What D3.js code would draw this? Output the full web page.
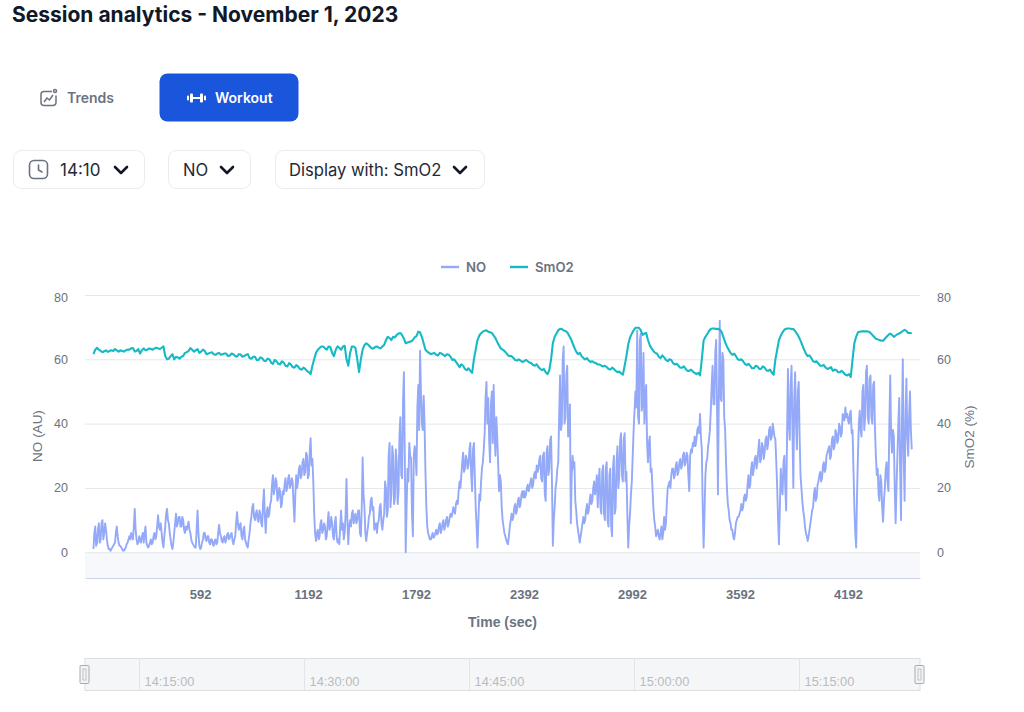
<!DOCTYPE html>
<html><head><meta charset="utf-8">
<script src="https://cdn.jsdelivr.net/npm/d3@7"></script>
<style>html,body{margin:0;padding:0;background:#fff}svg{display:block}</style>
</head><body><div id="c"></div>
<script>
const titleText = "Session analytics - November 1, 2023";
const sampleSeconds = 9.97;
const noValues = [
1,8,3,9,4,10,6,7,2,1,1,2,3,8,3,2,1,0.5,1.5,3,
5,6,4,13.5,4,3,4,5,3,8,2,2,4,3,6,5,11.5,7,6,1.5,
8,13.5,9,4,1,6,12,9,11,8,10,6,7,9.5,6,3,2,1.5,13,2,
1.5,4,6,3.5,5,2.5,4,2,4,3,8.5,5,3,5,4,6,4.5,6,2.5,5,
12.5,7,9,4,8,3,1.5,6,11,15,10,13,9.5,12,8,19.5,6,14,12,16,
24,20,22,17,19,15,18,23,20,24,21,22,9.5,24,22,27,24,29,25,30,
24,35.5,29,12,3.5,7,5,10,7,8,5,12.5,8,9,4,11,3,2.5,13,9,
6,22.8,2.5,10,12,9,12,10,13,5,29.5,14,3.5,8,12,17,14,8,6,10,
15,7,12,20,13,34,18,30,17,28,19,42,23,56,0,26,34,29,5,33,
24,52,62.7,40,48.7,25,8,5,4,6,5,7,6,9,7,10,8,11,9,12,
12,13,15,15,22,24,31,26,29,27,34,19,34,14,1.5,18,22,28,37,53,
48,28,50,52,30,36,19,22,10,6,4,2.5,8,12,11,15,13,17,15,19,
19,18,21,20,23,21,25,27,26,30,22,31,16,33,26,36,2,14,22,28,
55,40,64,42,58,38,9,30,28,13,7,3,7,11,10,15,13,18,16,22,
20,14,26,12,27,10,28,8,26,5,30,14,33,24,37,22,37,25,1.5,12,
22,38,50,69,40,68,46,40,52,28,36,26,14,8,6,5,6,4,11,9,
20,22,24,26,24,28,25,29,27,31,28,30,19,32,34,36,35,39,43,32,
1.5,24,29,35,44,58,46,66,18,72,47,60,38,20,13,9,7,4,9,11,
12,15,14,18,17,24,21,28,26,30,28,35,29,33,31,36,34,39,36,38,
35,20,2.5,26,18,30,13,57,35,58,20,56,32,53,24,16,11,6,3.5,7,
11,14,20,17,22,25,23,28,26,31,33,30,36,33,37,35,39,37,42,45,
43,40,44,38,14,1.5,30,44,36,52,42,58,40,55,40,53,30,26,16,22,
9.5,20,28,19,55,31,36,9,30,48,10,60,16,54,30,50,32];
const noBetween = [
6,2,7,3,9,4,9,4,1,0.5,1.5,2.5,6,5,2,1.5,0.5,1,2.5,4,
4,5,8,7,2.5,5,3,6,6,3,1.5,3,2.5,5,4,8,8,9,3,5,
12,10,6,2,3,9,8,11,8,11,7,8,8,7,4,2.5,1.5,7,6,1,
3,6,4,5,3,4,2.5,3.5,2.5,6,6,3.5,4.5,3,5.5,4,5.5,3.5,4,9,
9,8.5,5,7,4,2,4,9,14,11,12,10,13,9,15,11,12,11,15,21,
18,23,16,20,14,19,21,19,23,20,23,15,18,20,26,23,28,24,31,23,
31,27,22,6,6,4,9,6,9,4,9,7,11,5,9,5,4,8,7,4,
12,10,8,8,13,11,9,13,6,14,18,6,6,11,16,13,7,9,9,14,
9,10,22,11,30,14,33,15,32,15,36,24,47,30,14,22,30,12,30,30,
45,38,50,38,40,14,6,4,5,4.5,6,5.5,8,6,9,7,10,8,11,11,
14,12,16,19,20,28,25,30,26,32,24,32,24,8,10,16,26,32,48,40,
35,46,34,38,42,28,24,14,8,5,3,5,10,10,14,12,16,14,18,17,
17,20,19,22,20,24,23,25,29,23,30,18,31,24,35,22,10,20,26,42,
38,60,40,55,36,46,24,26,16,9,5,5,9,9,13,12,16,15,20,18,
24,22,14,25,12,26,10,24,8,26,12,28,20,35,24,35,22,12,8,18,
30,44,45,42,66,44,62,48,34,34,25,20,10,5,7,4,8,6,7,15,
21,20,26,23,27,24,28,26,30,27,31,24,30,31,33,33,38,37,36,14,
12,28,33,38,52,46,62,44,50,48,62,42,28,15,10,7,5,6,10,11,
13,13,17,16,21,20,26,24,29,26,32,28,34,29,35,32,38,35,40,36,
28,10,14,20,28,20,36,40,52,38,48,40,50,36,20,13,8,5,5,9,
13,18,16,21,24,22,27,25,30,32,29,35,32,38,34,40,36,43,41,42,
41,43,37,26,6,18,40,38,50,38,56,42,54,42,52,38,24,18,24,14,
16,26,22,40,36,38,20,20,40,26,40,30,42,36,42,38];
const smo2Values = [
61.6,63.6,62.6,62.5,62.3,62.8,63.2,62.4,62.6,62.8,63,63.5,62.6,61.8,63.4,63,63.2,63.4,63.4,63.6,
61,60.2,61.6,60.8,60.2,61,62.2,63.5,62.4,63.2,62.4,62.6,61.8,62.2,61.4,62,61.6,61.8,61.2,61.6,
60.8,61.5,61,61.6,60.2,60.8,59.8,60.4,59.4,60,58.6,59.4,58.4,59,57.8,58.4,57.4,57.8,56.8,57,
56,58,62,63.5,64,63,63.8,61,64,63,64.2,58,64,63.5,56,63,65,64,63.4,64,
63.4,64.5,67,66,66.8,68,67.5,65,65.4,66,67.2,68.4,65,62.4,61.6,62,61.2,61.8,61,61.4,
59.8,59.2,57.6,58,56.6,56.4,60,66,68.1,68.9,68.6,68.2,66.6,64.3,63,62,61,60.4,59.6,59.6,
59.4,59.4,58.8,58,57.6,56.6,56,56.6,65,68,69.5,69,68.4,66.4,63.6,61.6,61,60,59.6,59.4,
58.8,58.4,57.8,57.6,56.8,57,56,55.6,58,64.6,68,69.8,69.8,67.6,68.2,64.4,62.6,61.8,60.4,60.6,
59.4,59.8,58.4,58,57.4,57,56.4,56.2,55.4,55,65.8,67.8,69.4,69.6,69.5,68.6,65.3,63,61.4,61,
59.8,59.4,58.2,58,57.2,57.8,57,57.4,56.4,55.8,60,66,68.4,69.5,69.6,69.4,68,65.8,63,61,
60.4,59.2,58.6,58,57.4,57.2,56.4,56.6,56,55.8,55,54.5,65,68.4,68.7,68.7,68.6,67.6,66.4,66,
65.8,67,68,67,67.8,68.4,69.2,68.2,68.1];
const smo2Between = [
63,63,62.2,62.8,62.6,62.6,62.8,62.8,62.4,63,63.4,62.4,63.2,62.8,62.8,63.4,63,63.6,63.2,64,
60,61,60,60.6,60.8,62,62.6,63,62.8,62,63,61.6,62,61.6,61.8,61.4,61.8,61,61.8,61,
61.6,60.8,61.4,60.4,60.8,59.8,60.6,59.6,60.2,59,59.8,58.6,59.4,58,58.8,57.6,58.2,57,57.4,56.4,
55.4,60,63,64,63.4,64,62,63,63.6,64,60,62,64,60,60,64.4,64.6,63.4,63.8,63.6,
64,66,66.6,67,67.6,68.2,66.4,65.2,65.6,66.8,68.6,67,63,62,61.8,61.4,62,61.4,61.6,60.8,
60,58.4,58.4,57,57.2,55.8,63,67.4,68.6,69,68.4,67.4,65.4,63.4,62.6,61.2,61,59.8,60,59.2,
59.8,59,58.2,58.4,57,57,55.4,60,67,69,69.4,68.8,67.4,65,62.4,62,60.4,60.4,59.2,59,
58.4,58,58,57,57.4,56.4,56.2,55.2,61,66.8,69,69.8,69,68,66,63.4,62,60.8,61.2,59.8,
60,58.8,58.6,57.4,57.8,56.4,56.8,55.8,55.8,60,67,68.8,69.6,69.4,69.2,67,64,62,61.8,60,
60,58.6,58.6,57.2,58,57,57.8,56.6,56.8,55.2,63,67.4,69.2,69.6,69.4,68.8,67,64.4,61.8,61.2,
59.4,59.4,58,58.2,57,57.6,56.8,56,56.4,55.2,55.4,60,67,68.6,68.7,68.7,68.2,67,66.2,65.8,
66.4,67.6,67.6,67.4,68,68.8,68.8,68.2];
const xTicks = [592,1192,1792,2392,2992,3592,4192];
const yTicks = [0,20,40,60,80];
const sliderTicks = ["14:15:00","14:30:00","14:45:00","15:00:00","15:15:00"];
const legendNames = ["NO","SmO2"];
const dropdownTexts = ["14:10","NO","Display with: SmO2"];

const NO_C="#94a9f8", SM_C="#17bac4", TXT="#6b7280";
const svg=d3.select("#c").append("svg").attr("width",1024).attr("height",712).attr("viewBox","0 0 1024 712");
const inter="Inter, 'Noto Sans', sans-serif", arial="'Liberation Sans', Arial, sans-serif";

svg.append("text").attr("x",12).attr("y",22).attr("font-family",inter).attr("font-size",21).attr("font-weight",700).attr("fill","#111827").text(titleText);

// Tabs
const gT=svg.append("g");
gT.append("text").attr("x",67).attr("y",103).attr("font-family",inter).attr("font-size",14).attr("font-weight",600).attr("fill","#6b7280").text("Trends");
const ic=gT.append("g").attr("fill","none").attr("stroke","#6b7280").attr("stroke-width",1.5);
ic.append("path").attr("d","M52 91.5H44a3 3 0 0 0-3 3v8a3 3 0 0 0 3 3h9a3 3 0 0 0 3-3v-7");
ic.append("path").attr("d","M44 102l3-4 2.5 2 3.5-5");
ic.append("circle").attr("cx",55).attr("cy",91).attr("r",1.5);
gT.append("rect").attr("x",159.5).attr("y",73.5).attr("width",139).attr("height",48).attr("rx",8).attr("fill","#1a56db");
gT.append("text").attr("x",215).attr("y",103).attr("font-family",inter).attr("font-size",14).attr("font-weight",600).attr("fill","#fff").text("Workout");
const db=gT.append("g").attr("fill","#fff");
db.append("rect").attr("x",187).attr("y",95.5).attr("width",2).attr("height",5).attr("rx",1);
db.append("rect").attr("x",190).attr("y",93.5).attr("width",3).attr("height",9).attr("rx",1);
db.append("rect").attr("x",193).attr("y",97).attr("width",7).attr("height",2);
db.append("rect").attr("x",200).attr("y",93.5).attr("width",3).attr("height",9).attr("rx",1);
db.append("rect").attr("x",204).attr("y",95.5).attr("width",2).attr("height",5).attr("rx",1);

// Dropdowns
const boxes=[[13,131,60,121,17],[168,82,183,227,16.6],[275,209,289,460,16.6]];
boxes.forEach((b,i)=>{
  svg.append("rect").attr("x",b[0]+.5).attr("y",150.5).attr("width",b[1]).attr("height",38).attr("rx",8).attr("fill","#fff").attr("stroke","#e9ebef");
  svg.append("text").attr("x",b[2]).attr("y",175.5).attr("font-family",inter).attr("font-size",b[4]).attr("fill","#1f2937").text(dropdownTexts[i]);
  svg.append("path").attr("d",`M${b[3]-6} 167l6 6 6-6`).attr("fill","none").attr("stroke","#111827").attr("stroke-width",2.6).attr("stroke-linecap","round").attr("stroke-linejoin","round");
});
const ck=svg.append("g").attr("fill","none").attr("stroke","#6b7280").attr("stroke-width",1.6);
ck.append("rect").attr("x",29.5).attr("y",160.5).attr("width",18).attr("height",18).attr("rx",4.5);
ck.append("path").attr("d","M38.5 165v5l3.5 2").attr("stroke-linecap","round");

// Scales
const x=d3.scaleLinear().domain([-47,4592]).range([85,920]);
const y=d3.scaleLinear().domain([-8,80]).range([578,295]);

svg.append("rect").attr("x",85).attr("y",y(0)).attr("width",835).attr("height",y(-8)-y(0)).attr("fill","#f7f8fb");

const yL=svg.append("g").attr("transform","translate(85,0)").call(d3.axisLeft(y).tickValues(yTicks).tickSize(-835).tickPadding(17));
yL.select(".domain").remove();
yL.selectAll(".tick line").attr("stroke","#e5e7eb");
yL.selectAll("text").attr("font-family",arial).attr("font-size",12.5).attr("fill",TXT).attr("y",d=>d===80?2:0);
const yR=svg.append("g").attr("transform","translate(920,0)").call(d3.axisRight(y).tickValues(yTicks).tickSize(0).tickPadding(17));
yR.select(".domain").remove();
yR.selectAll("text").attr("font-family",arial).attr("font-size",12.5).attr("fill",TXT).attr("y",d=>d===80?2:0);

const xA=svg.append("g").attr("transform","translate(0,578)").call(d3.axisBottom(x).tickValues(xTicks).tickSize(0).tickPadding(12).tickFormat(d3.format("d")));
xA.select(".domain").attr("stroke","#ccd3e4");
xA.selectAll("text").attr("font-family",arial).attr("font-size",13).attr("font-weight",700).attr("fill",TXT);

svg.append("text").attr("x",502.5).attr("y",627).attr("text-anchor","middle").attr("font-family",arial).attr("font-size",14).attr("font-weight",700).attr("fill",TXT).text("Time (sec)");
svg.append("text").attr("transform","translate(42,436) rotate(-90)").attr("text-anchor","middle").attr("font-family",arial).attr("font-size",13.5).attr("fill",TXT).text("NO (AU)");
svg.append("text").attr("transform","translate(974,437) rotate(-90)").attr("text-anchor","middle").attr("font-family",arial).attr("font-size",13.5).attr("fill",TXT).text("SmO2 (%)");

// Lines: each series alternates its two read sample lists
const weave=(a,b,step)=>a.flatMap((v,i)=>i<b.length?[[i*step,v],[(i+.5)*step,b[i]]]:[[i*step,v]]);
const line=d3.line().x(d=>x(d[0])).y(d=>y(d[1]));
svg.append("path").datum(weave(noValues,noBetween,sampleSeconds)).attr("d",line).attr("fill","none").attr("stroke",NO_C).attr("stroke-width",1.9).attr("stroke-linejoin","round");
svg.append("path").datum(weave(smo2Values,smo2Between,sampleSeconds*2)).attr("d",line).attr("fill","none").attr("stroke",SM_C).attr("stroke-width",2.1).attr("stroke-linejoin","round");

// Legend
const lg=[[441,466,NO_C],[510,535,SM_C]];
legendNames.forEach((n,i)=>{
  svg.append("line").attr("x1",lg[i][0]).attr("x2",lg[i][0]+18).attr("y1",267).attr("y2",267).attr("stroke",lg[i][2]).attr("stroke-width",2.4);
  svg.append("text").attr("x",lg[i][1]).attr("y",272).attr("font-family",inter).attr("font-size",13.2).attr("font-weight",600).attr("fill",TXT).text(n);
});

// Slider
const toDate=s=>{const p=s.split(":").map(Number);return new Date(Date.UTC(2023,10,1,p[0],p[1],p[2]));};
const xt=d3.scaleUtc().domain([toDate("14:10:05"),toDate("15:26:00")]).range([85,920]);
svg.append("rect").attr("x",85).attr("y",658.5).attr("width",835).attr("height",32).attr("fill","#f5f6f8").attr("stroke","#dcdee2");
const sl=svg.append("g").attr("transform","translate(0,658)").call(d3.axisBottom(xt).tickValues(sliderTicks.map(toDate)).tickSize(32).tickFormat(d3.utcFormat("%H:%M:%S")));
sl.select(".domain").remove();
sl.selectAll(".tick line").attr("stroke","#e2e4e8");
sl.selectAll("text").attr("font-family",arial).attr("font-size",12.8).attr("fill","#b8bcc2").attr("text-anchor","start").attr("dx",5).attr("dy",0).attr("y",28);
[84.5,919.5].forEach(h=>{
  svg.append("rect").attr("x",h-4.5).attr("y",665.5).attr("width",9).attr("height",18).attr("rx",1).attr("fill","#f3f4f6").attr("stroke","#a8abb0");
  svg.append("rect").attr("x",h-1.5).attr("y",669).attr("width",3).attr("height",11).attr("fill","none").attr("stroke","#b4b7bc").attr("stroke-width",.8);
});
</script></body></html>
